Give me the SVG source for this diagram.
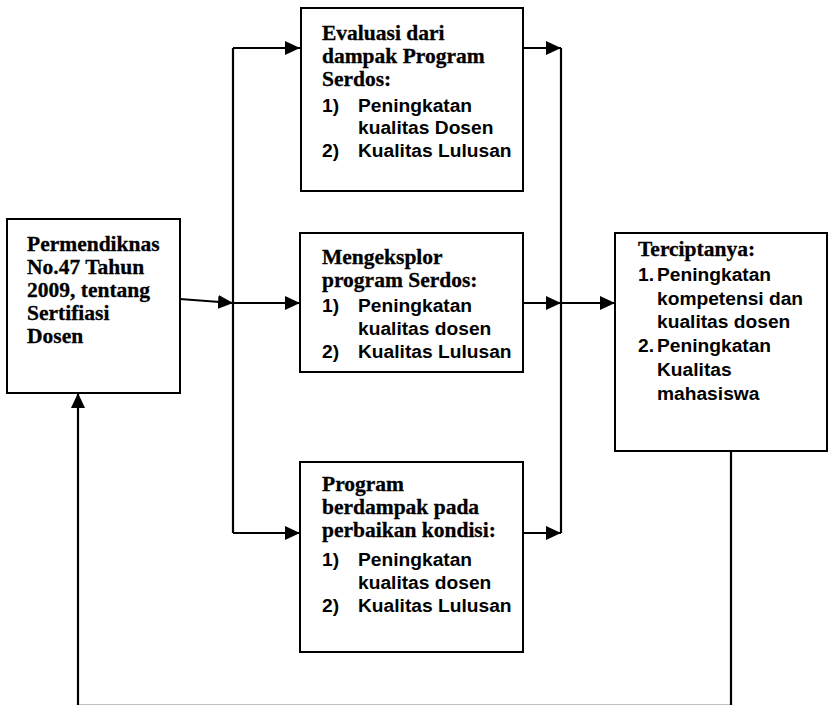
<svg xmlns="http://www.w3.org/2000/svg" width="828" height="705" viewBox="0 0 828 705">
  <style>
    .box { fill: #fff; stroke: #000; stroke-width: 2; }
    .wire { fill: none; stroke: #000; stroke-width: 2.2; }
    .hd { font-family: "Liberation Serif", "Times New Roman", serif; font-weight: bold; font-size: 21.5px; fill: #000; stroke: #000; stroke-width: 0.3; }
    .li { font-family: "Liberation Sans", Arial, sans-serif; font-weight: bold; font-size: 19.2px; fill: #000; }
  </style>
  <defs>
    <marker id="arrow" markerWidth="16" markerHeight="14" refX="15" refY="7" orient="auto" markerUnits="userSpaceOnUse">
      <path d="M0,0 L15,7 L0,14 Z" fill="#000"/>
    </marker>
  </defs>
  <rect width="828" height="705" fill="#fff"/>

  <!-- connectors -->
  <g id="connectors">
    <line class="wire" x1="180" y1="299" x2="233" y2="303" marker-end="url(#arrow)"/>
    <line class="wire" x1="233" y1="48" x2="233" y2="533"/>
    <line class="wire" x1="233" y1="48" x2="300" y2="48" marker-end="url(#arrow)"/>
    <line class="wire" x1="233" y1="303" x2="300" y2="303" marker-end="url(#arrow)"/>
    <line class="wire" x1="233" y1="533" x2="300" y2="533" marker-end="url(#arrow)"/>
    <line class="wire" x1="523" y1="48" x2="561" y2="48" marker-end="url(#arrow)"/>
    <line class="wire" x1="523" y1="303" x2="561" y2="303" marker-end="url(#arrow)"/>
    <line class="wire" x1="523" y1="533" x2="561" y2="533" marker-end="url(#arrow)"/>
    <line class="wire" x1="561" y1="48" x2="561" y2="533"/>
    <line class="wire" x1="561" y1="303" x2="615" y2="303" marker-end="url(#arrow)"/>
    <!-- feedback loop running along the bottom edge -->
    <line class="wire" x1="731" y1="451" x2="731" y2="705.8"/>
    <line class="wire" x1="731" y1="705.8" x2="78" y2="705.8"/>
    <line class="wire" x1="78" y1="705.8" x2="78" y2="393" marker-end="url(#arrow)"/>
  </g>

  <g id="regulation">
    <rect class="box" x="7" y="219" width="173" height="174"/>
    <text class="hd" x="27" y="251">Permendiknas</text>
    <text class="hd" x="27" y="274">No.47 Tahun</text>
    <text class="hd" x="27" y="297">2009, tentang</text>
    <text class="hd" x="27" y="320">Sertifiasi</text>
    <text class="hd" x="27" y="343">Dosen</text>
  </g>

  <g id="evaluation">
    <rect class="box" x="301" y="8" width="222" height="183"/>
    <text class="hd" x="322" y="40">Evaluasi dari</text>
    <text class="hd" x="322" y="63">dampak Program</text>
    <text class="hd" x="322" y="86">Serdos:</text>
    <text class="li" x="322" y="112">1)</text>
    <text class="li" x="358" y="112">Peningkatan</text>
    <text class="li" x="358" y="134">kualitas Dosen</text>
    <text class="li" x="322" y="157">2)</text>
    <text class="li" x="358" y="157">Kualitas Lulusan</text>
  </g>

  <g id="exploration">
    <rect class="box" x="300" y="233" width="223" height="139"/>
    <text class="hd" x="322" y="264">Mengeksplor</text>
    <text class="hd" x="322" y="287">program Serdos:</text>
    <text class="li" x="322" y="312">1)</text>
    <text class="li" x="358" y="312">Peningkatan</text>
    <text class="li" x="358" y="335">kualitas dosen</text>
    <text class="li" x="322" y="358">2)</text>
    <text class="li" x="358" y="358">Kualitas Lulusan</text>
  </g>

  <g id="impact">
    <rect class="box" x="300" y="462" width="223" height="190"/>
    <text class="hd" x="322" y="491">Program</text>
    <text class="hd" x="322" y="514">berdampak pada</text>
    <text class="hd" x="322" y="537">perbaikan kondisi:</text>
    <text class="li" x="322" y="566">1)</text>
    <text class="li" x="358" y="566">Peningkatan</text>
    <text class="li" x="358" y="589">kualitas dosen</text>
    <text class="li" x="322" y="612">2)</text>
    <text class="li" x="358" y="612">Kualitas Lulusan</text>
  </g>

  <g id="outcome">
    <rect class="box" x="615" y="233" width="212" height="218"/>
    <text class="hd" x="638" y="256">Terciptanya:</text>
    <text class="li" x="638" y="281">1.</text>
    <text class="li" x="657" y="281">Peningkatan</text>
    <text class="li" x="657" y="305">kompetensi dan</text>
    <text class="li" x="657" y="328">kualitas dosen</text>
    <text class="li" x="638" y="352">2.</text>
    <text class="li" x="657" y="352">Peningkatan</text>
    <text class="li" x="657" y="376">Kualitas</text>
    <text class="li" x="657" y="400">mahasiswa</text>
  </g>
</svg>
